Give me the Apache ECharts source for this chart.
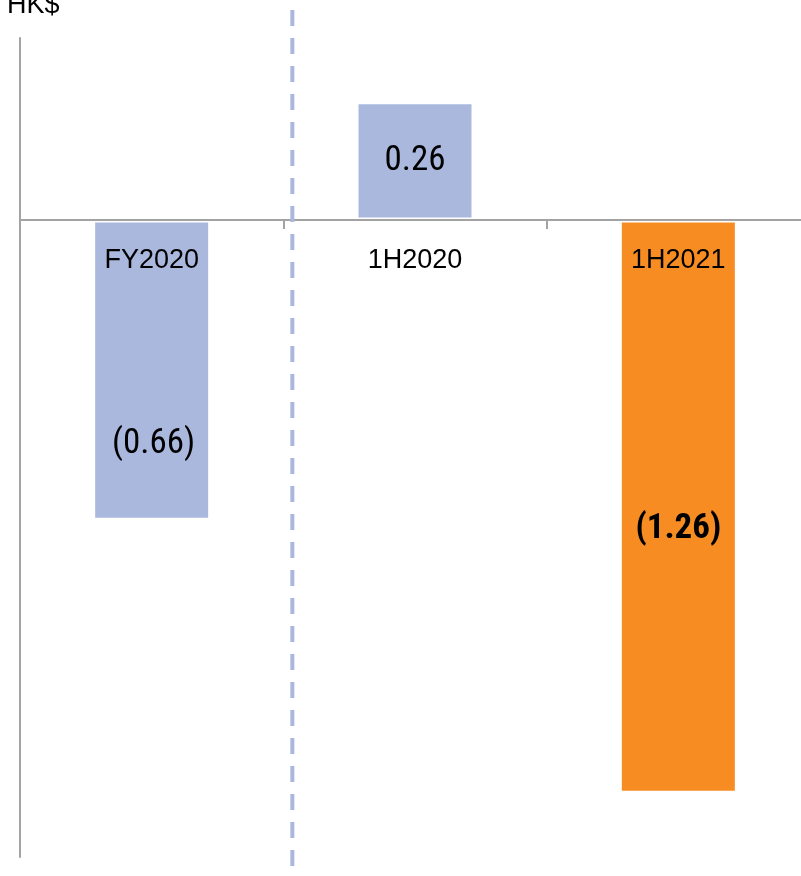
<!DOCTYPE html>
<html>
<head>
<meta charset="utf-8">
<script src="https://cdn.jsdelivr.net/npm/echarts@6/dist/echarts.min.js"></script>
<style>
  html, body { margin: 0; padding: 0; background: #fff; }
  #chart { width: 801px; height: 876px; }
</style>
</head>
<body>
<div id="chart"></div>
<script>
// HK$ per share, negatives shown in brackets
const categories = ['FY2020', '1H2020', '1H2021']
const values = [-0.66, 0.26, -1.26]

const blue = '#aab8de'
const orange = '#f78d22'
const axisGray = '#a3a3a3'
const regular = '"Liberation Sans", Arial, sans-serif'
const narrow = '"Roboto Condensed", "Liberation Sans", sans-serif'

const fmt = v => v < 0 ? '(' + Math.abs(v).toFixed(2) + ')' : v.toFixed(2)

const chart = echarts.init(document.getElementById('chart'))

const barData = values.map((v, i) => {
  const item = { value: v, itemStyle: { color: i === 2 ? orange : blue } }
  if (i === 0) item.label = { offset: [2, 74] }
  if (i === 2) item.label = { offset: [0, 23], fontWeight: 'bold' }
  return item
})

chart.setOption({
  animation: false,
  grid: { left: 20, right: -9, top: 38, bottom: 19, outerBoundsMode: 'none', containLabel: false },
  xAxis: {
    type: 'category',
    data: categories,
    z: 3,
    axisLine: { onZero: true, lineStyle: { color: axisGray, width: 2 } },
    axisTick: { show: true, length: 9, lineStyle: { color: axisGray, width: 2 } },
    axisLabel: { show: false }
  },
  yAxis: {
    type: 'value',
    min: -1.4,
    max: 0.4,
    interval: 0.2,
    axisLine: { show: true, lineStyle: { color: axisGray, width: 2 } },
    axisTick: { show: false },
    axisLabel: { show: false },
    splitLine: { show: false }
  },
  series: [
    {
      type: 'bar',
      barWidth: 118,
      data: barData,
      itemStyle: { borderColor: '#fff', borderWidth: 2.5 },
      label: {
        show: true,
        position: 'inside',
        color: '#000',
        fontSize: 35,
        fontFamily: narrow,
        formatter: p => fmt(p.value)
      }
    },
    {
      // category names sit just under the zero line
      type: 'scatter',
      z: 5,
      silent: true,
      symbolSize: 0,
      itemStyle: { opacity: 1 },
      data: categories.map(c => [c, 0]),
      label: {
        show: true,
        position: 'bottom',
        distance: 27,
        color: '#000',
        opacity: 1,
        fontSize: 27,
        fontFamily: regular,
        formatter: p => p.value[0]
      }
    }
  ]
})

// dashed separator just right of the FY2020 / 1H2020 boundary
const c0 = chart.convertToPixel({ xAxisIndex: 0 }, categories[0])
const c1 = chart.convertToPixel({ xAxisIndex: 0 }, categories[1])
const sepX = (c0 + c1) / 2 + 9

chart.setOption({
  graphic: [
    {
      type: 'line',
      z: 10,
      shape: { x1: sepX, y1: 10, x2: sepX, y2: 866 },
      style: { stroke: blue, lineWidth: 4, lineDash: [16, 12] }
    },
    {
      type: 'text',
      x: 7,
      y: 6,
      style: { text: 'HK$', fill: '#000', font: '27px ' + regular, verticalAlign: 'middle' }
    }
  ]
})
</script>
</body>
</html>
